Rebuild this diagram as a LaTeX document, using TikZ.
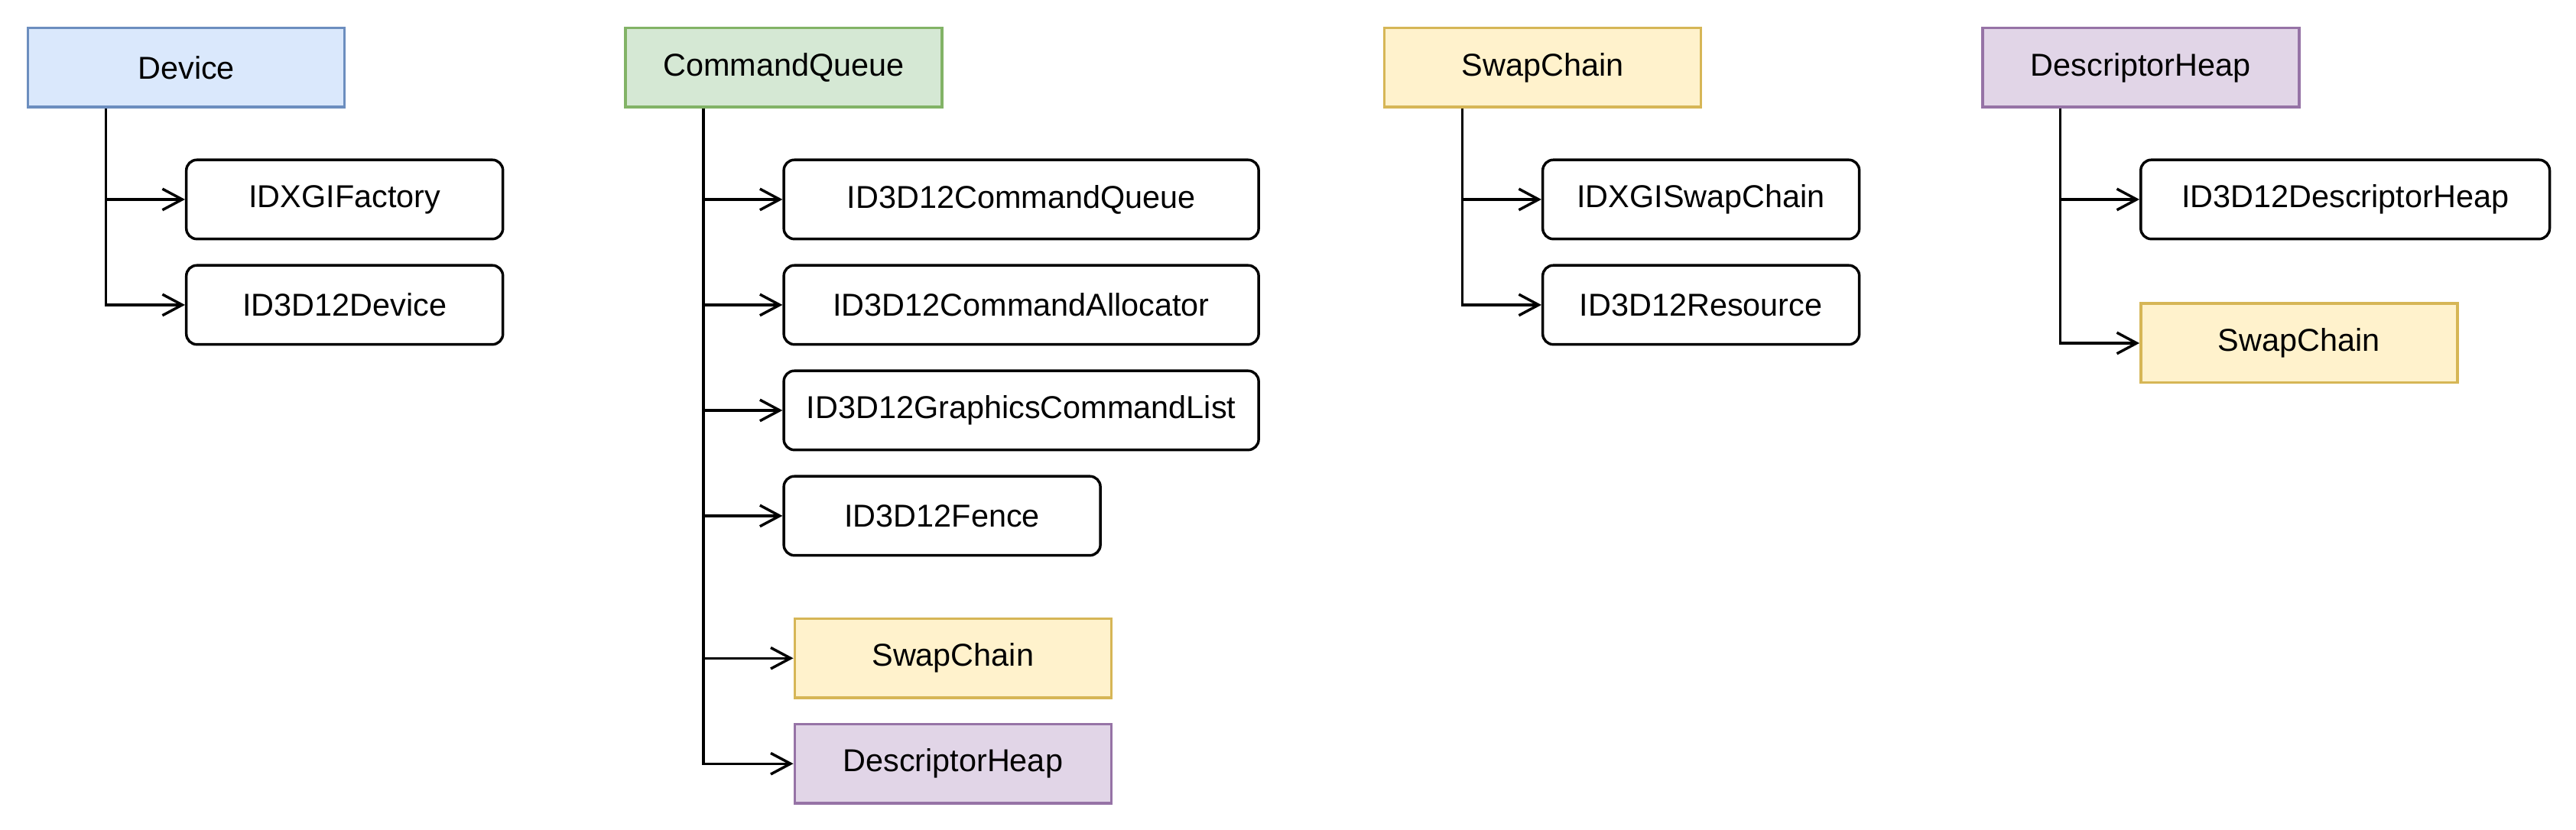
\documentclass[tikz,border=0pt]{standalone}
\usepackage{fontspec}
\setmainfont{Liberation Sans}
\usetikzlibrary{arrows.meta}
\definecolor{bluefill}{HTML}{DAE8FC}
\definecolor{bluedraw}{HTML}{6C8EBF}
\definecolor{greenfill}{HTML}{D5E8D4}
\definecolor{greendraw}{HTML}{82B366}
\definecolor{yellowfill}{HTML}{FFF2CC}
\definecolor{yellowdraw}{HTML}{D6B656}
\definecolor{purplefill}{HTML}{E1D5E7}
\definecolor{purpledraw}{HTML}{9673A6}
\begin{document}
\begin{tikzpicture}[x=1pt,y=-1pt,
  base/.style={draw, line width=1pt, anchor=north west, minimum height=30pt,
    minimum width=120pt, inner sep=0pt, font=\fontsize{12}{14}\selectfont},
  iface/.style={base, rounded corners=4pt, fill=white},
  bluebox/.style={base, fill=bluefill, draw=bluedraw},
  greenbox/.style={base, fill=greenfill, draw=greendraw},
  yellowbox/.style={base, fill=yellowfill, draw=yellowdraw},
  purplebox/.style={base, fill=purplefill, draw=purpledraw},
  conn/.style={line width=1pt, -{Straight Barb[length=7.5pt,width=8pt]}}]
\useasboundingbox (-10.14,-10.14) rectangle (966.4,304.6);

% Device column
\node[bluebox] (dev) at (0,0) {Device};
\node[iface] (dev1) at (60,50) {IDXGIFactory};
\node[iface] (dev2) at (60,90) {ID3D12Device};
\coordinate (devT) at ([xshift=30pt]dev.south west);
\draw[conn] (devT) |- (dev1.west);
\draw[conn] (devT) |- (dev2.west);

% CommandQueue column
\node[greenbox] (cq) at (226.5,0) {CommandQueue};
\node[iface, minimum width=180pt] (cq1) at (286.5,50) {ID3D12CommandQueue};
\node[iface, minimum width=180pt] (cq2) at (286.5,90) {ID3D12CommandAllocator};
\node[iface, minimum width=180pt] (cq3) at (286.5,130) {ID3D12GraphicsCommandList};
\node[iface] (cq4) at (286.5,170) {ID3D12Fence};
\node[yellowbox] (cq5) at (290.6,224) {SwapChain};
\node[purplebox] (cq6) at (290.6,264) {DescriptorHeap};
\coordinate (cqT) at ([xshift=30pt]cq.south west);
\foreach \c in {cq1,cq2,cq3,cq4,cq5,cq6}
  \draw[conn] (cqT) |- (\c.west);

% SwapChain column
\node[yellowbox] (sc) at (514.2,0) {SwapChain};
\node[iface] (sc1) at (574.2,50) {IDXGISwapChain};
\node[iface] (sc2) at (574.2,90) {ID3D12Resource};
\coordinate (scT) at ([xshift=30pt]sc.south west);
\draw[conn] (scT) |- (sc1.west);
\draw[conn] (scT) |- (sc2.west);

% DescriptorHeap column
\node[purplebox] (dh) at (740.9,0) {DescriptorHeap};
\node[iface, minimum width=155pt] (dh1) at (800.9,50) {ID3D12DescriptorHeap};
\node[yellowbox] (dh2) at (800.9,104.5) {SwapChain};
\coordinate (dhT) at ([xshift=30pt]dh.south west);
\draw[conn] (dhT) |- (dh1.west);
\draw[conn] (dhT) |- (dh2.west);
\end{tikzpicture}
\end{document}
